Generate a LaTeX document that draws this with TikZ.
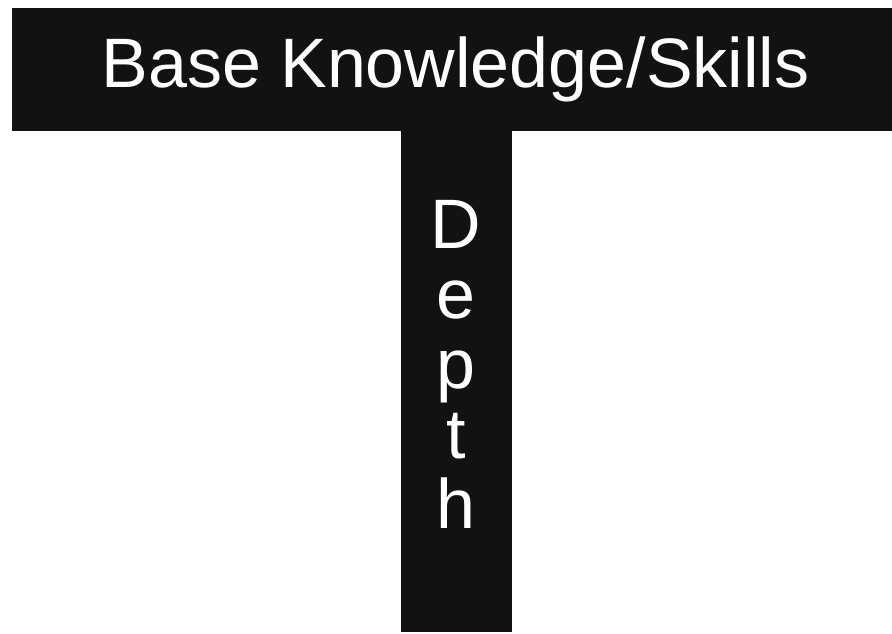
\documentclass[tikz,border=0pt]{standalone}
\usepackage{fontspec}
\setmainfont{Liberation Sans}
\definecolor{barblack}{HTML}{121212}
\begin{document}
\begin{tikzpicture}[x=1pt,y=-1pt,
  bar/.style={fill=barblack,draw=none},
  label/.style={text=white,inner sep=0pt,font=\fontsize{70}{70}\selectfont}]
\useasboundingbox (0,0) rectangle (892,633);
\fill[white] (0,0) rectangle (892,633);
\path[bar] (12,8) rectangle (892,131);
\path[bar] (401,130) rectangle (512,632);
\node[label,anchor=base] (base) at (455.5,87) {Base Knowledge/Skills};
\node[label,anchor=base,align=center] (depth) at (456,528) {D\\e\\p\\t\\h};
\end{tikzpicture}
\end{document}
